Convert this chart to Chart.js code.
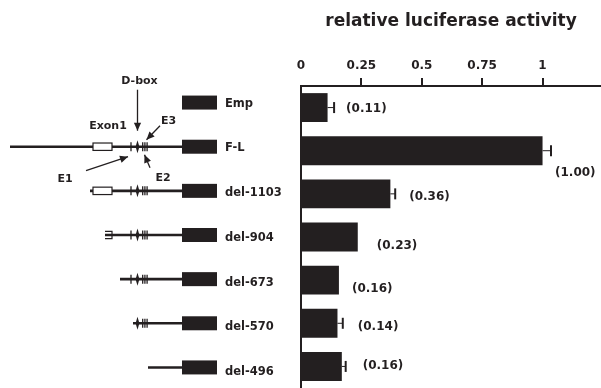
<!DOCTYPE html>
<html>
<head>
<meta charset="utf-8">
<title>relative luciferase activity</title>
<script src="https://cdn.jsdelivr.net/npm/chart.js@4.4.1/dist/chart.umd.min.js"></script>
<style>
  html, body { margin: 0; padding: 0; background: #fff; }
  #wrap { position: relative; width: 601px; height: 388px; }
</style>
</head>
<body>
<div id="wrap"><canvas id="chart"></canvas></div>
<script>
"use strict";

// ---- data ----
const constructs  = ["Emp", "F-L", "del-1103", "del-904", "del-673", "del-570", "del-496"];
const activity    = [0.11, 1.00, 0.37, 0.235, 0.157, 0.151, 0.169];
const errorPlus   = [0.027, 0.035, 0.02, 0, 0, 0.022, 0.016];
const valueLabels = ["(0.11)", "(1.00)", "(0.36)", "(0.23)", "(0.16)", "(0.14)", "(0.16)"];
const tickValues  = [0, 0.25, 0.5, 0.75, 1];
const tickLabels  = ["0", "0.25", "0.5", "0.75", "1"];
const AXIS_TITLE  = "relative luciferase activity";

// ---- look ----
const INK  = "#231f20";
const FONT = "'DejaVu Sans', sans-serif";

// value label nudges [dx from whisker end, dy from bar centre]
const labelShift = [[12, 1.5], [4, 22], [14, 3], [19, 9], [13, 9], [15, 4], [17, -1]];

// promoter schematic (pixel layout of the drawing, left of the plot)
const LUC_X0 = 182, LUC_X1 = 217;
const EXON_X0 = 93, EXON_X1 = 112;
const schematic = [
    null,                                   // Emp: reporter only
    { start: 10,  exon: "full" },
    { start: 90,  exon: "full" },
    { start: 105, exon: "part" },
    { start: 120 },
    { start: 133, noE1: true },
    { start: 148, noElems: true }
];

function line(ctx, x1, y1, x2, y2) {
    ctx.beginPath(); ctx.moveTo(x1, y1); ctx.lineTo(x2, y2); ctx.stroke();
}

function arrow(ctx, x1, y1, x2, y2) {
    ctx.lineWidth = 1.3;
    line(ctx, x1, y1, x2, y2);
    const a = Math.atan2(y2 - y1, x2 - x1), L = 8, W = 3.6;
    ctx.beginPath();
    ctx.moveTo(x2, y2);
    ctx.lineTo(x2 - L * Math.cos(a) + W * Math.sin(a), y2 - L * Math.sin(a) - W * Math.cos(a));
    ctx.lineTo(x2 - L * Math.cos(a) - W * Math.sin(a), y2 - L * Math.sin(a) + W * Math.cos(a));
    ctx.closePath(); ctx.fill();
}

function elements(ctx, cy, noE1) {
    ctx.lineWidth = 1.3;
    if (!noE1) line(ctx, 131, cy - 4.5, 131, cy + 4.5);
    [142.7, 144.9, 147.1].forEach(x => line(ctx, x, cy - 4.5, x, cy + 4.5));
    // D-box
    ctx.beginPath();
    ctx.moveTo(137.5, cy - 6.5); ctx.lineTo(139.4, cy);
    ctx.lineTo(137.5, cy + 6.5); ctx.lineTo(135.6, cy);
    ctx.closePath(); ctx.fill();
}

const schematicPlugin = {
    id: "schematic",
    afterDraw(chart) {
        const { ctx } = chart;
        const ys = chart.scales.y;
        const rowY = i => ys.getPixelForValue(i) - 2 + (i - 3);
        ctx.save();
        ctx.fillStyle = INK; ctx.strokeStyle = INK;

        constructs.forEach((name, i) => {
            const cy = rowY(i);
            const row = schematic[i];
            if (row) {
                ctx.lineWidth = 2.6;
                line(ctx, row.start, cy, LUC_X0, cy);
                if (row.exon === "full") {
                    ctx.fillStyle = "#fff";
                    ctx.fillRect(EXON_X0, cy - 3.7, EXON_X1 - EXON_X0, 7.4);
                    ctx.fillStyle = INK;
                    ctx.lineWidth = 1.2;
                    ctx.strokeRect(EXON_X0, cy - 3.7, EXON_X1 - EXON_X0, 7.4);
                } else if (row.exon === "part") {
                    ctx.lineWidth = 1.2;
                    ctx.beginPath();
                    ctx.moveTo(row.start, cy - 3.7); ctx.lineTo(EXON_X1, cy - 3.7);
                    ctx.lineTo(EXON_X1, cy + 3.7); ctx.lineTo(row.start, cy + 3.7);
                    ctx.stroke();
                }
                if (!row.noElems) elements(ctx, cy, row.noE1);
            }
            ctx.fillRect(LUC_X0, cy - 7, LUC_X1 - LUC_X0, 14);

            ctx.font = "bold 11.5px " + FONT;
            ctx.textAlign = "left"; ctx.textBaseline = "middle";
            ctx.fillText(name, 225, cy + 1 + 0.6 * i);
        });

        // annotations around the full-length promoter
        const fy = rowY(1);
        ctx.font = "bold 11px " + FONT;
        ctx.textAlign = "center"; ctx.textBaseline = "middle";
        ctx.fillText("D-box", 139.5, fy - 66);
        ctx.fillText("Exon1", 108, fy - 21);
        ctx.fillText("E3", 168.5, fy - 26);
        ctx.fillText("E1", 65, fy + 32);
        ctx.fillText("E2", 163, fy + 31);
        arrow(ctx, 137.5, fy - 57, 137.5, fy - 16);
        arrow(ctx, 160, fy - 21, 146.5, fy - 7);
        arrow(ctx, 86, fy + 24, 128, fy + 10);
        arrow(ctx, 150, fy + 21, 144.5, fy + 8);
        ctx.restore();
    }
};

const errorBarPlugin = {
    id: "errorBars",
    afterDatasetsDraw(chart) {
        const { ctx, scales: { x, y } } = chart;
        ctx.save();
        ctx.strokeStyle = INK; ctx.fillStyle = INK;
        activity.forEach((v, i) => {
            const cy = y.getPixelForValue(i);
            const x0 = x.getPixelForValue(v);
            const x1 = x.getPixelForValue(v + errorPlus[i]);
            if (errorPlus[i] > 0) {
                ctx.lineWidth = 1;
                line(ctx, x0, cy, x1, cy);
                ctx.lineWidth = 2;
                line(ctx, x1, cy - 5.5, x1, cy + 5.5);
            }
            const [dx, dy] = labelShift[i];
            ctx.font = "bold 12px " + FONT;
            ctx.textAlign = "left"; ctx.textBaseline = "middle";
            ctx.fillText(valueLabels[i], Math.max(x0, x1) + dx, cy + dy);
        });
        ctx.restore();
    }
};

new Chart(document.getElementById("chart"), {
    type: "bar",
    data: {
        labels: constructs,
        datasets: [{
            data: activity,
            backgroundColor: INK,
            borderWidth: 0,
            barPercentage: 0.67,
            categoryPercentage: 1
        }]
    },
    options: {
        indexAxis: "y",
        responsive: true, maintainAspectRatio: false,
        animation: false,
        layout: { padding: { left: 301, right: 0, top: 0, bottom: 0 } },
        plugins: { legend: { display: false }, tooltip: { enabled: false } },
        scales: {
            x: {
                position: "top",
                min: 0, max: 1.242,
                afterBuildTicks: s => { s.ticks = tickValues.map(v => ({ value: v })); },
                afterFit: s => { s.height = 86; },
                ticks: {
                    color: INK, padding: 5, maxRotation: 0, autoSkip: false,
                    font: { family: FONT, size: 12, weight: "bold" },
                    callback: (v, i) => tickLabels[i]
                },
                grid: {
                    drawOnChartArea: false, drawTicks: true, tickLength: 8, lineWidth: 2,
                    color: c => (c.tick && c.tick.value === 0) ? "rgba(0,0,0,0)" : INK
                },
                border: { display: true, color: INK, width: 2 },
                title: {
                    display: true, text: AXIS_TITLE, color: INK,
                    font: { family: FONT, size: 17, weight: "bold" },
                    padding: { top: 11, bottom: 0 }
                }
            },
            y: {
                ticks: { display: false },
                grid: { display: false },
                border: { display: true, color: INK, width: 2 },
                afterFit: s => { s.width = 0; }
            }
        }
    },
    plugins: [errorBarPlugin, schematicPlugin]
});
</script>
</body>
</html>
